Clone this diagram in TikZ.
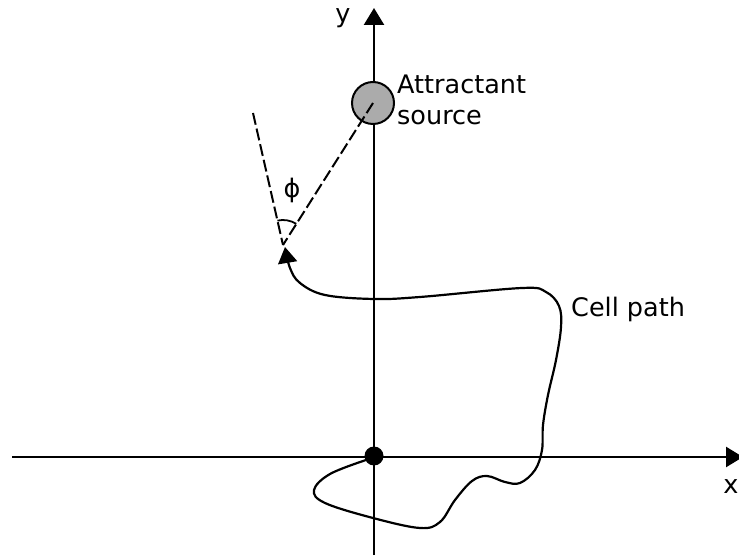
\documentclass[tikz,border=0pt]{standalone}
\usepackage{fontspec}
\setmainfont{DejaVu Sans}
\usetikzlibrary{arrows.meta,calc}
\begin{document}
\begin{tikzpicture}[x=1pt,y=1pt,
  lbl/.style={font=\fontsize{25.5}{31}\selectfont, inner sep=0pt},
  axis/.style={line width=2.4pt, -{Triangle[length=17pt,width=20pt]}},
  dashln/.style={line width=2pt, dash pattern=on 12pt off 4pt},
  pathln/.style={line width=2.2pt, -{Triangle[length=16pt,width=19pt]}}]
\useasboundingbox (0,0) rectangle (739,557);
% axes
\coordinate (xs) at (12,100);
\coordinate (xe) at (743,100);
\coordinate (ys) at (374,2);
\coordinate (ye) at (374,549);
\draw[axis] (xs) -- (xe);
\draw[axis] (ys) -- (ye);
\node[lbl] (ylab) at (343,539) {y};
\node[lbl] (xlab) at (731,70) {x};
% origin dot
\node[circle, fill=black, minimum size=19pt, inner sep=0pt] (orig) at (374,101) {};
% attractant source
\node[circle, draw=black, line width=2pt, fill=black!33, minimum size=42pt, inner sep=0pt] (src) at (373,454) {};
\node[lbl, anchor=west, align=left] (srclab) at (397,457) {Attractant\\source};
% dashed lines
\coordinate (P) at (283,312);
\coordinate (D) at (253,444);
\draw[dashln] (src.center) -- (P);
\draw[dashln] (D) -- (P);
\draw[line width=1.8pt] ([shift={(57.9:25pt)}]P) arc[start angle=57.9, end angle=102.8, radius=25pt];
\node[lbl] (phi) at (292,367) {ϕ};
% cell path
\draw[pathln] plot[smooth, tension=0.6] coordinates {
(366,97) (330,83) (314,67) (325,54) (373,39) (420,29) (440,35) (455,57)
(472,76) (487,81) (505,75) (520,74) (535,87) (542,107) (543,132) (548,162)
(556,197) (561,230) (559,251) (546,265) (522,269) (420,260) (374,258)
(325,262) (300,274) (290,289) (285,310)};
\node[lbl, anchor=west] (cell) at (571,248) {Cell path};
\end{tikzpicture}
\end{document}
